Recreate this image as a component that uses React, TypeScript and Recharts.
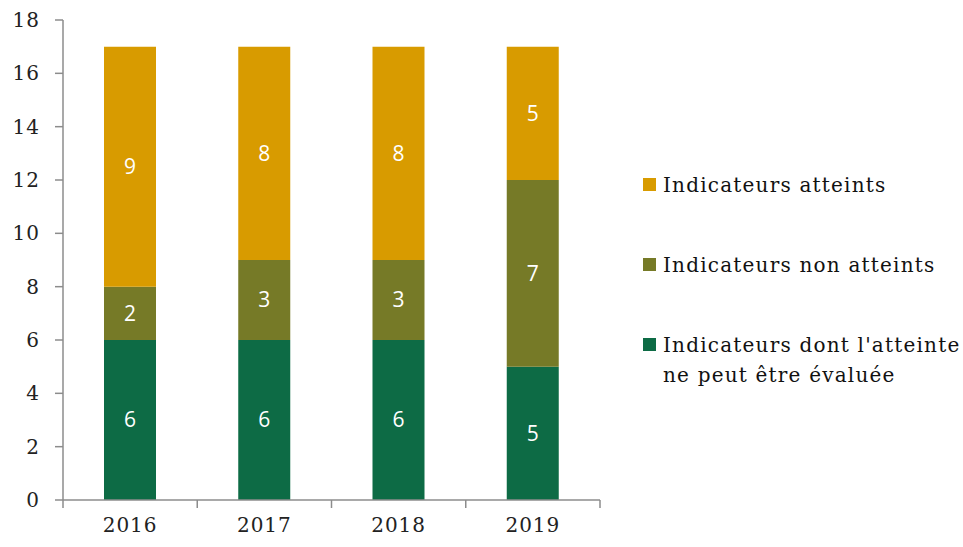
import { BarChart, Bar, XAxis, YAxis, Legend, LabelList } from 'recharts'

const years = ['2016', '2017', '2018', '2019']
const nonEvalues = [6, 6, 6, 5]
const nonAtteints = [2, 3, 3, 7]
const atteints = [9, 8, 8, 5]
const yTicks = [0, 2, 4, 6, 8, 10, 12, 14, 16, 18]

const SERIES = [
  { key: 'evalue', name: "Indicateurs dont l'atteinte ne peut être évaluée", color: '#0D6B45' },
  { key: 'non', name: 'Indicateurs non atteints', color: '#767A27' },
  { key: 'ok', name: 'Indicateurs atteints', color: '#D89B00' },
]

const data = years.map((y, i) => ({
  year: y,
  evalue: nonEvalues[i],
  non: nonAtteints[i],
  ok: atteints[i],
}))

const SERIF = "'DejaVu Serif', serif"
const AXIS = '#8c8c8c'

const LegendBox = () => {
  const items = [...SERIES].reverse()
  return (
    <div style={{ fontFamily: SERIF, fontSize: 20, letterSpacing: 1.2, color: '#111', textAlign: 'left' }}>
      {items.map((s) => (
        <div key={s.key} style={{ display: 'flex', alignItems: 'flex-start', marginBottom: 50 }}>
          <span
            style={{
              display: 'inline-block',
              width: 13,
              height: 13,
              background: s.color,
              marginTop: 8,
              marginRight: 7,
              flexShrink: 0,
            }}
          />
          <span style={{ lineHeight: '30px', width: 300 }}>{s.name}</span>
        </div>
      ))}
    </div>
  )
}

// tick marks sit between categories (half a band either side of the label)
const YearTick = ({ x, y, payload, visibleTicksCount }: any) => {
  const half = payload.offset || 0
  const last = payload.index === visibleTicksCount - 1
  return (
    <g>
      <line x1={x - half} x2={x - half} y1={y} y2={y + 8} stroke={AXIS} strokeWidth={1.5} />
      {last && <line x1={x + half} x2={x + half} y1={y} y2={y + 8} stroke={AXIS} strokeWidth={1.5} />}
      <text
        x={x}
        y={y + 32}
        textAnchor='middle'
        fill='#222'
        style={{ fontFamily: SERIF, fontSize: 20, letterSpacing: 1 }}
      >
        {payload.value}
      </text>
    </g>
  )
}

export default function App() {
  return (
    <div style={{ position: 'absolute', left: 0, top: 0, background: '#fff' }}>
      <BarChart
        width={963}
        height={547}
        data={data}
        margin={{ top: 20, right: 363, bottom: 17, left: 13 }}
      >
        <XAxis
          dataKey='year'
          height={30}
          tickLine={false}
          tickSize={0}
          tickMargin={0}
          interval={0}
          axisLine={{ stroke: AXIS, strokeWidth: 1.5 }}
          tick={<YearTick />}
        />
        <YAxis
          width={50}
          domain={[0, 18]}
          ticks={yTicks}
          interval={0}
          tickSize={8}
          tickMargin={15}
          axisLine={{ stroke: AXIS, strokeWidth: 1.5 }}
          tickLine={{ stroke: AXIS, strokeWidth: 1.5 }}
          tick={{ fill: '#222', fontFamily: SERIF, fontSize: 20, letterSpacing: 1 }}
        />
        {SERIES.map((s) => (
          <Bar
            key={s.key}
            dataKey={s.key}
            name={s.name}
            stackId='a'
            fill={s.color}
            barSize={52}
            isAnimationActive={false}
          >
            <LabelList
              dataKey={s.key}
              position='center'
              fill='#fff'
              style={{ fontFamily: "'Open Sans', sans-serif", fontSize: 21 }}
            />
          </Bar>
        ))}
        <Legend
          layout='vertical'
          align='center'
          verticalAlign='middle'
          content={<LegendBox />}
          wrapperStyle={{ left: 643, top: 170, width: 320 }}
        />
      </BarChart>
    </div>
  )
}
